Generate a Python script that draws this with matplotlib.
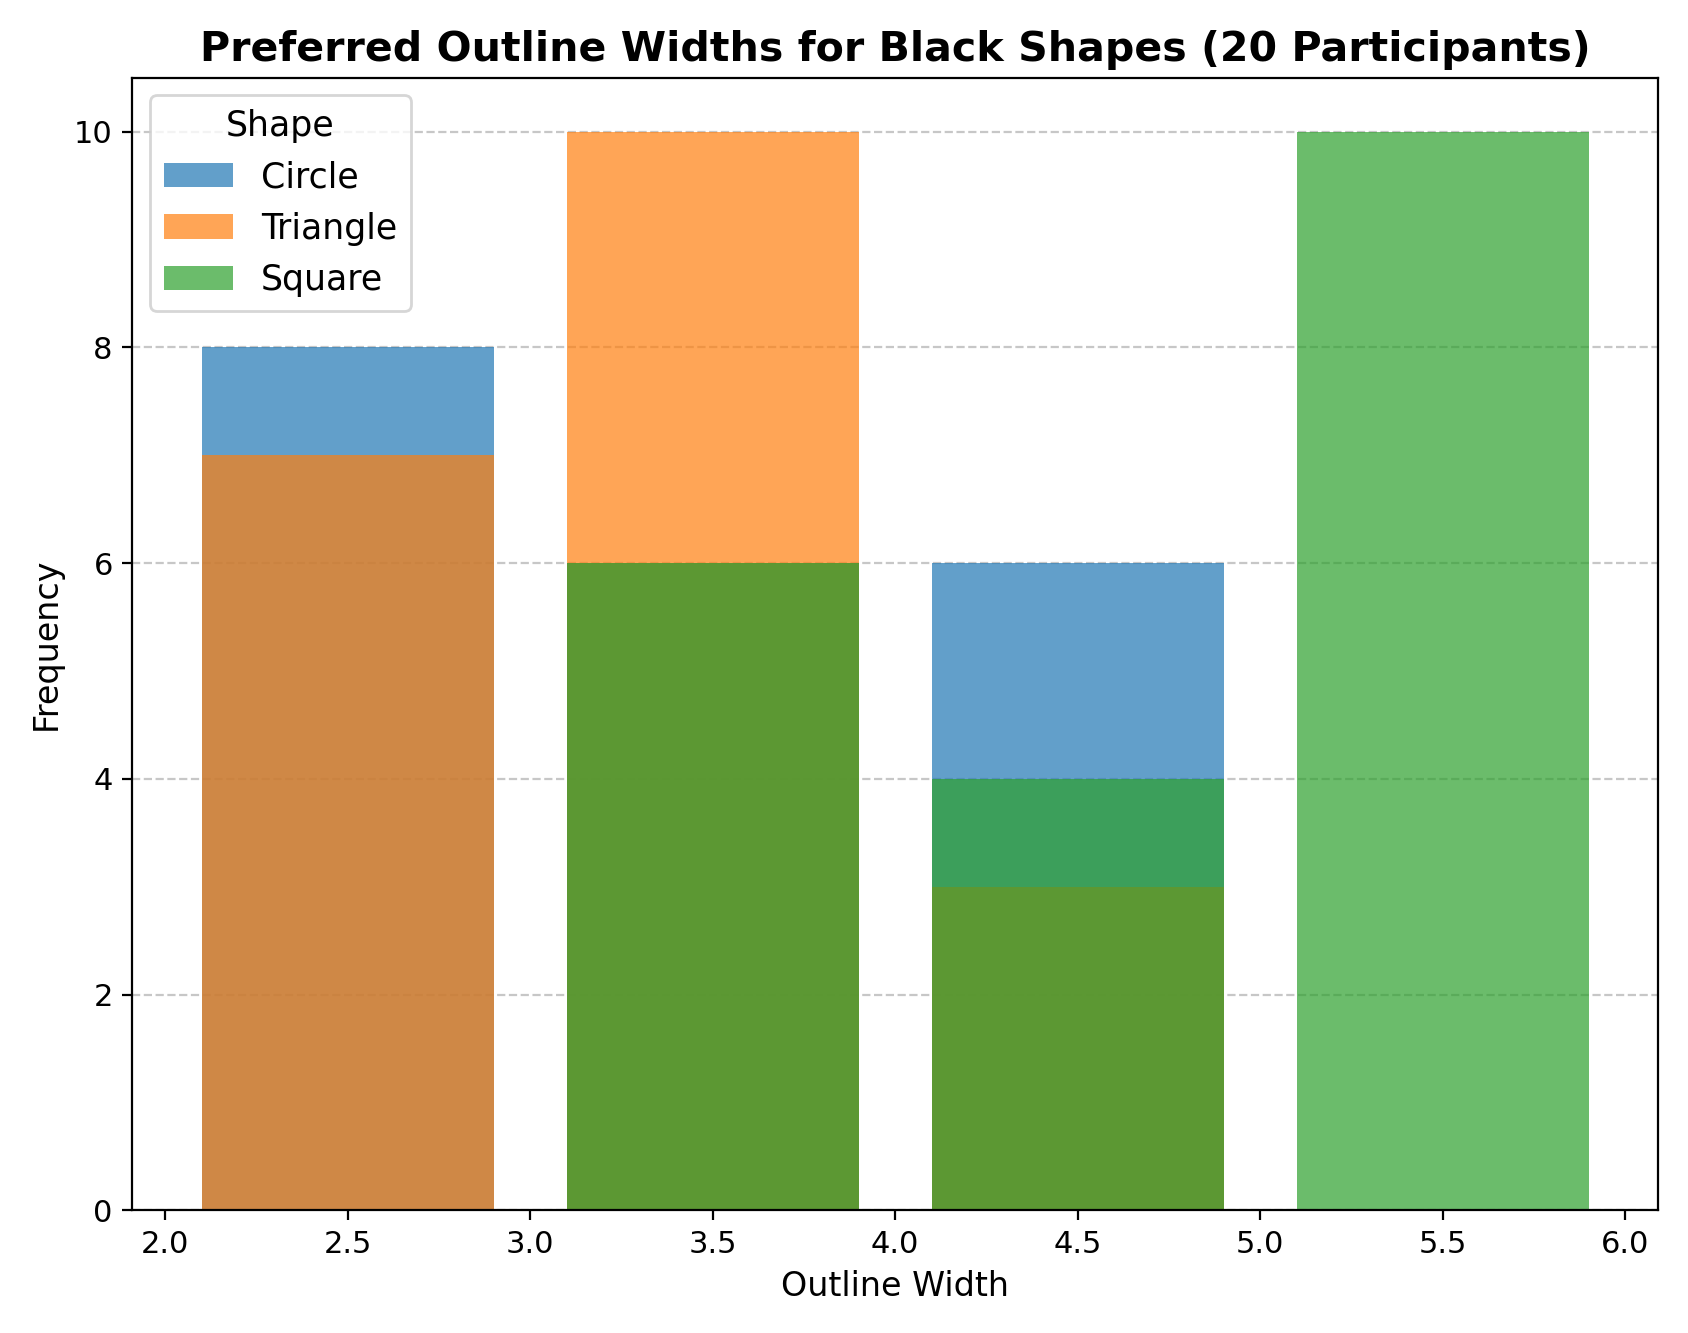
import matplotlib
matplotlib.use("Agg")
import matplotlib.pyplot as plt
import numpy as np

shapes = ["Circle", "Triangle", "Square"]
bin_centers = [2.5, 3.5, 4.5, 5.5]
bin_edges = [2, 3, 4, 5, 6]
circle_counts = [8, 6, 6, 0]
triangle_counts = [7, 10, 3, 0]
square_counts = [0, 6, 4, 10]
colors = ["#1f77b4", "#ff7f0e", "#2ca02c"]

fig, ax = plt.subplots(figsize=(8.44, 6.665), dpi=200)
for name, counts, c in zip(shapes, [circle_counts, triangle_counts, square_counts], colors):
    ax.hist(bin_centers, bins=bin_edges, weights=counts, rwidth=0.8, alpha=0.7,
            color=c, label=name)

ax.set_title("Preferred Outline Widths for Black Shapes (20 Participants)",
             fontsize=14.8, fontweight="bold")
ax.set_xlabel("Outline Width", fontsize=12)
ax.set_ylabel("Frequency", fontsize=12)
ax.tick_params(labelsize=11)
ax.grid(axis="y", linestyle="--", alpha=0.7)
ax.set_axisbelow(True)
ax.legend(title="Shape", fontsize=12.5, title_fontsize=12.5, loc="upper left")
fig.tight_layout()
fig.savefig("out.png", dpi=200)
